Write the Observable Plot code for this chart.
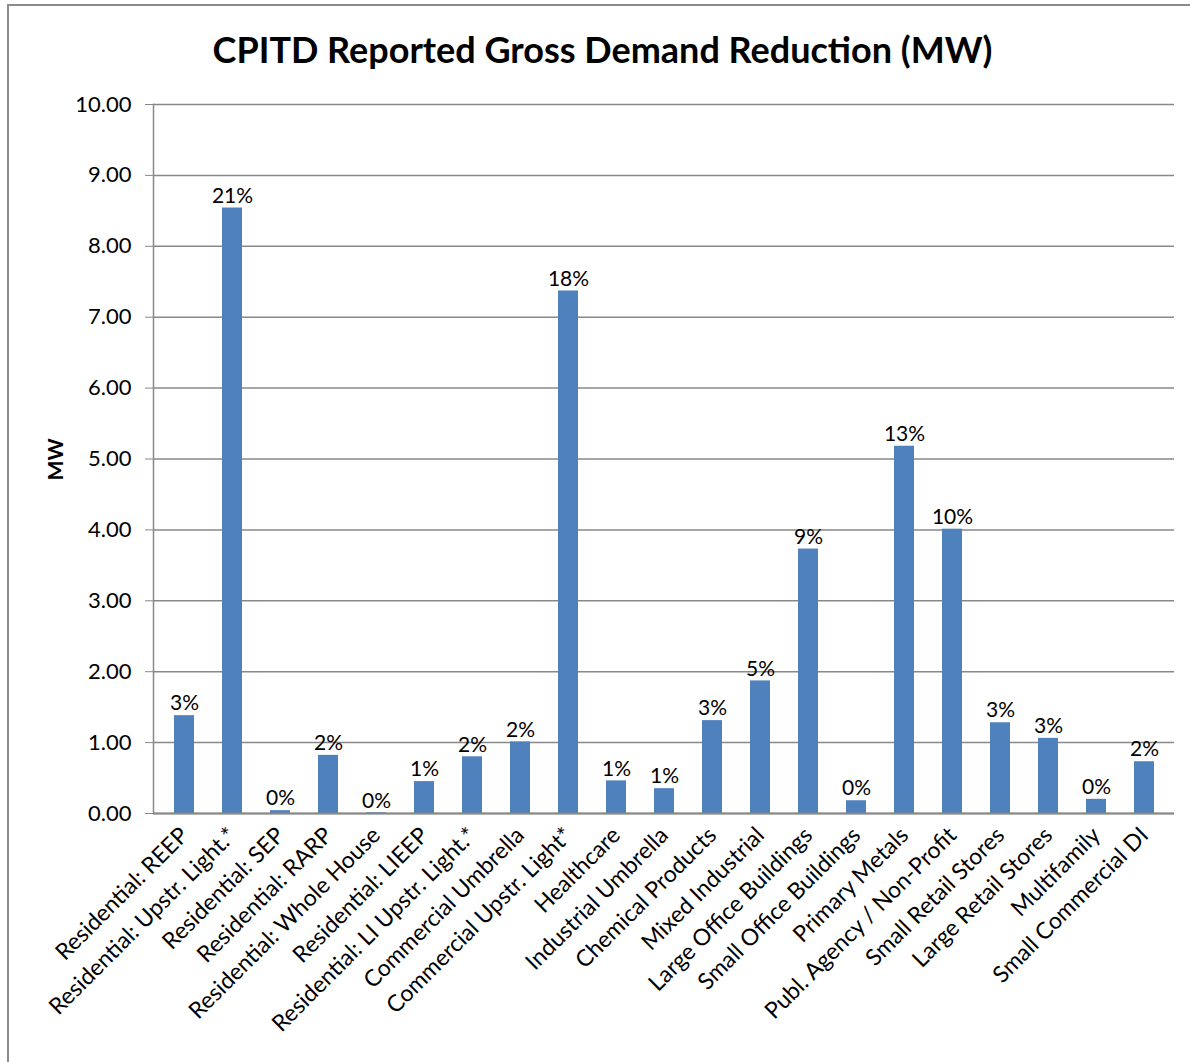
<!DOCTYPE html>
<html><head><meta charset="utf-8">
<script src="https://cdn.jsdelivr.net/npm/d3@7"></script>
<script src="https://cdn.jsdelivr.net/npm/@observablehq/plot@0.6"></script>
<style>
html,body{margin:0;padding:0;background:#fff;}
#frame{position:absolute;left:7px;top:4px;width:1190px;height:1062px;border:2px solid #8c8c8c;box-sizing:border-box;}
#title{position:absolute;left:0;top:27px;width:1205px;text-align:center;font-family:Lato,"Open Sans",sans-serif;font-weight:bold;font-size:36px;color:#000;}
#chart{position:absolute;left:0;top:80px;}
#ylab{position:absolute;left:34px;top:447px;font-family:Lato,sans-serif;font-weight:bold;font-size:21px;transform:rotate(-90deg);transform-origin:center;}
</style></head>
<body>
<div id="frame"></div>
<div id="title">CPITD Reported Gross Demand Reduction (MW)</div>
<div id="ylab">MW</div>
<div id="chart"></div>
<script>
const categories = ["Residential: REEP","Residential: Upstr. Light.*","Residential: SEP","Residential: RARP","Residential: Whole House","Residential: LIEEP","Residential: LI Upstr. Light.*","Commercial Umbrella","Commercial Upstr. Light*","Healthcare","Industrial Umbrella","Chemical Products","Mixed Industrial","Large Office Buildings","Small Office Buildings","Primary Metals","Publ. Agency / Non-Profit","Small Retail Stores","Large Retail Stores","Multifamily","Small Commercial DI"];
const values = [1.38,8.54,0.04,0.82,0.01,0.45,0.80,1.01,7.37,0.46,0.35,1.31,1.87,3.73,0.18,5.18,4.01,1.28,1.06,0.20,0.73];
const percents = ["3%","21%","0%","2%","0%","1%","2%","2%","18%","1%","1%","3%","5%","9%","0%","13%","10%","3%","3%","0%","2%"];
const yTicks = [0,1,2,3,4,5,6,7,8,9,10];

const data = categories.map((c,i)=>({cat:c, v:values[i], p:percents[i]}));

const chart = Plot.plot({
  width: 1190,
  height: 982,
  marginLeft: 153,
  marginRight: 16,
  marginTop: 24,
  marginBottom: 249,
  style: {fontFamily: "Lato, 'Open Sans', sans-serif", fontSize: "20px", color: "#000", background: "transparent"},
  x: {domain: categories, paddingInner: 0.586, paddingOuter: 0.293, label: null},
  y: {domain: [0,10], label: null},
  marks: [
    Plot.gridY(yTicks, {stroke: "#888", strokeOpacity: 1, strokeWidth: 1.5}),
    Plot.barY(data, {x: "cat", y: "v", fill: "#4F81BD"}),
    Plot.ruleY([0], {stroke: "#888", strokeWidth: 2}),
    Plot.frame({anchor: "left", stroke: "#888", strokeWidth: 1.5}),
    Plot.axisY({ticks: yTicks, tickFormat: d3.format(".2f"), tickSize: 8, tickPadding: 14, stroke: "#888", fontSize: 22}),
    Plot.axisX({tickRotate: -45, tickSize: 0, tickPadding: 18, fontSize: 23}),
    Plot.text(data, {x: "cat", y: "v", text: "p", dy: -12, fill: "#000", fontSize: 21})
  ]
});
document.getElementById("chart").appendChild(chart);
</script>
</body></html>
